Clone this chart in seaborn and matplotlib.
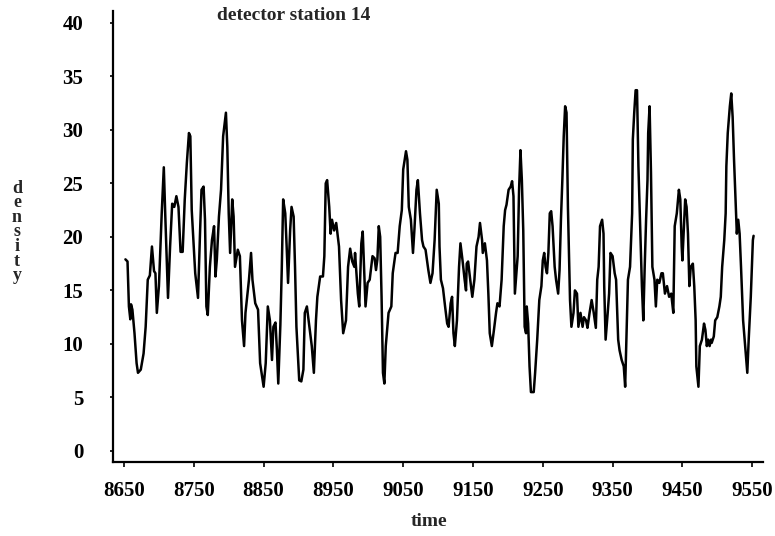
import matplotlib
matplotlib.use("Agg")
import matplotlib.pyplot as plt
import seaborn as sns
import pandas as pd

time = [8652, 8655, 8657, 8659, 8660, 8662, 8665, 8668, 8670, 8674, 8678, 8681, 8684, 8687, 8690,
        8693, 8695, 8697, 8700, 8704, 8707, 8709, 8713, 8716, 8719, 8722, 8725, 8728, 8731, 8734,
        8737, 8740, 8743, 8745, 8747, 8752, 8756, 8759, 8761, 8764, 8766, 8768, 8770, 8773, 8776,
        8779, 8781, 8783, 8786, 8789, 8792, 8796, 8798, 8800, 8802, 8805, 8807, 8809, 8813, 8816,
        8819, 8822, 8824, 8829, 8832, 8834, 8838, 8842, 8845, 8850, 8853, 8856, 8859, 8862, 8864,
        8867, 8869, 8871, 8874, 8876, 8878, 8881, 8883, 8885, 8888, 8890, 8893, 8895, 8897, 8901,
        8904, 8907, 8909, 8912, 8915, 8919, 8922, 8925, 8927, 8931, 8935, 8937, 8939, 8941, 8944,
        8946, 8948, 8951, 8954, 8958, 8961, 8964, 8968, 8971, 8974, 8977, 8980, 8981, 8985, 8987,
        8990, 8992, 8994, 8996, 8999, 9002, 9006, 9009, 9011, 9013, 9015, 9017, 9019, 9021, 9023,
        9025, 9029, 9033, 9035, 9039, 9042, 9045, 9048, 9050, 9054, 9056, 9058, 9061, 9064, 9066,
        9069, 9071, 9074, 9077, 9079, 9082, 9086, 9089, 9092, 9095, 9098, 9101, 9102, 9104, 9107,
        9110, 9113, 9115, 9118, 9120, 9122, 9124, 9127, 9130, 9132, 9135, 9138, 9140, 9141, 9143,
        9146, 9149, 9152, 9155, 9158, 9160, 9163, 9164, 9167, 9170, 9172, 9174, 9177, 9180, 9183,
        9185, 9188, 9191, 9194, 9196, 9198, 9201, 9204, 9206, 9208, 9210, 9214, 9216, 9218, 9220,
        9222, 9224, 9226, 9227, 9229, 9231, 9233, 9237, 9239, 9242, 9245, 9248, 9250, 9252, 9254,
        9256, 9258, 9260, 9262, 9264, 9267, 9269, 9272, 9274, 9276, 9278, 9280, 9282, 9284, 9286,
        9289, 9291, 9294, 9296, 9299, 9301, 9304, 9307, 9309, 9312, 9314, 9317, 9320, 9323, 9326,
        9328, 9330, 9332, 9335, 9337, 9338, 9340, 9343, 9345, 9347, 9350, 9353, 9355, 9358, 9360,
        9363, 9366, 9368, 9370, 9372, 9375, 9378, 9379, 9381, 9383, 9385, 9387, 9390, 9392, 9394,
        9396, 9398, 9400, 9401, 9403, 9405, 9407, 9410, 9412, 9414, 9417, 9420, 9422, 9425, 9428,
        9431, 9434, 9437, 9439, 9442, 9445, 9447, 9449, 9450, 9452, 9454, 9456, 9458, 9460, 9462,
        9465, 9467, 9469, 9470, 9473, 9475, 9478, 9481, 9483, 9485, 9487, 9489, 9491, 9492, 9495,
        9497, 9500, 9503, 9505, 9507, 9510, 9512, 9513, 9515, 9518, 9520, 9522, 9524, 9526, 9528,
        9530, 9532, 9534, 9537, 9540, 9543, 9545, 9548, 9551, 9552]

density = [17.9, 17.7, 13.5, 12.3, 13.7, 13.2, 11.0, 8.2, 7.3, 7.6, 9.1, 11.6, 16.0, 16.4, 19.1,
           16.8, 16.6, 12.9, 15.4, 22.2, 26.5, 22.2, 14.3, 19.1, 23.1, 22.8, 23.8, 22.8, 18.6, 18.6,
           23.5, 26.9, 29.7, 29.4, 22.5, 16.6, 14.3, 20.6, 24.4, 24.7, 21.6, 13.5, 12.7, 17.2, 19.7,
           21.0, 16.3, 17.9, 21.9, 24.4, 29.4, 31.6, 28.4, 22.2, 18.5, 23.5, 21.9, 17.2, 18.8, 18.2,
           12.2, 9.8, 12.9, 16.0, 18.5, 16.0, 13.8, 13.2, 8.2, 6.0, 8.2, 13.5, 12.2, 8.5, 11.6,
           12.0, 9.5, 6.3, 11.8, 17.0, 23.5, 22.2, 19.1, 15.7, 20.6, 22.8, 21.9, 17.2, 11.6, 6.6,
           6.5, 7.6, 12.9, 13.5, 11.9, 9.8, 7.3, 12.2, 14.4, 16.3, 16.3, 18.2, 25.0, 25.3, 22.8,
           20.3, 21.6, 20.6, 21.3, 19.1, 14.1, 11.0, 12.2, 17.2, 18.9, 17.7, 17.2, 18.5, 14.7, 13.5,
           19.4, 20.5, 16.9, 13.5, 15.7, 16.0, 18.2, 18.0, 16.9, 17.9, 21.0, 20.0, 14.4, 7.3, 6.3,
           9.8, 12.9, 13.5, 16.6, 18.5, 18.5, 21.0, 22.5, 26.3, 28.0, 27.2, 22.8, 21.6, 18.5, 20.6,
           24.4, 25.3, 22.2, 19.7, 19.1, 18.8, 16.9, 15.7, 16.6, 19.7, 24.4, 23.1, 19.1, 16.0, 15.2,
           13.5, 11.9, 11.6, 13.8, 14.4, 11.0, 9.8, 12.2, 17.2, 19.4, 17.8, 16.0, 15.0, 17.5, 17.7,
           16.0, 14.4, 16.0, 19.1, 20.0, 21.3, 19.7, 18.5, 19.4, 17.8, 14.7, 11.0, 9.8, 11.3, 12.9,
           13.8, 13.5, 16.0, 21.0, 22.5, 23.0, 24.4, 24.7, 25.2, 23.8, 14.7, 18.2, 24.4, 28.1, 25.3,
           20.6, 11.6, 11.0, 13.5, 11.9, 7.9, 5.5, 5.5, 7.3, 10.4, 14.1, 15.4, 17.8, 18.5, 17.2,
           16.6, 18.5, 22.2, 22.4, 21.0, 17.2, 16.0, 14.7, 16.9, 21.6, 25.3, 29.4, 32.2, 31.6, 22.8,
           14.1, 11.6, 12.9, 15.0, 14.7, 11.6, 12.9, 11.6, 12.5, 12.2, 11.5, 12.9, 14.1, 12.9, 11.5,
           16.0, 17.2, 21.0, 21.6, 20.3, 15.4, 10.4, 12.9, 14.7, 18.5, 18.2, 16.6, 16.0, 10.4, 9.4,
           8.5, 7.9, 6.0, 11.0, 16.0, 17.2, 22.2, 29.1, 31.6, 33.7, 33.7, 26.6, 19.7, 15.4, 12.2,
           17.2, 21.6, 25.3, 29.7, 32.2, 26.0, 17.2, 16.0, 13.5, 16.0, 15.7, 16.6, 16.6, 14.7, 15.4,
           14.4, 14.7, 12.9, 21.0, 22.2, 24.4, 23.5, 19.1, 17.8, 20.6, 23.5, 22.8, 20.3, 15.4, 17.2,
           17.5, 15.4, 12.2, 7.9, 6.0, 9.8, 10.4, 11.9, 11.3, 9.8, 10.4, 9.8, 10.4, 10.1, 10.7,
           12.2, 12.5, 13.5, 14.4, 17.2, 19.7, 22.2, 26.6, 29.7, 32.2, 33.4, 31.2, 27.2, 23.8, 20.3,
           21.6, 20.3, 17.2, 12.2, 9.8, 7.3, 10.4, 14.4, 19.7, 20.1]

x_ticks = [8650, 8750, 8850, 8950, 9050, 9150, 9250, 9350, 9450, 9550]
y_ticks = [0, 5, 10, 15, 20, 25, 30, 35, 40]
title_text = "detector station 14"
x_label = "time"
y_label = "density"

df = pd.DataFrame({"time": time, "density": density})

sns.set_style("ticks")
plt.rcParams["font.family"] = ["Liberation Serif", "DejaVu Serif"]
plt.rcParams["font.weight"] = "bold"

W, H = 775, 536
fig = plt.figure(figsize=(W / 100, H / 100), dpi=100)
ax = fig.add_axes([113 / W, 1 - 462 / H, 650 / W, (462 - 11) / H])

sns.lineplot(data=df, x="time", y="density", color="black", linewidth=1.8, ax=ax,
             estimator=None, sort=False)

ax.set_xlim(8634.2, 9565.5)
ax.set_ylim(-1.03, 41.1)
ax.set_xticks(x_ticks)
ax.set_yticks(y_ticks)
ax.set_xticklabels([str(v) for v in x_ticks], fontsize=15, fontweight="bold")
ax.set_yticklabels([str(v) for v in y_ticks], fontsize=15, fontweight="bold")
ax.tick_params(axis="x", direction="out", length=3.5, width=1.2, pad=10, colors="black")
ax.tick_params(axis="y", direction="out", length=2.5, width=1.2, pad=19, colors="black")

for s in ["top", "right"]:
    ax.spines[s].set_visible(False)
for s in ["left", "bottom"]:
    ax.spines[s].set_linewidth(1.6)
    ax.spines[s].set_color("black")

ax.set_xlabel("")
ax.set_ylabel("")
fig.text(429 / W, 1 - 521 / H, x_label, ha="center", va="center", fontsize=14, fontweight="bold")
fig.text(217 / W, 1 - 15 / H, title_text, ha="left", va="center", fontsize=14, fontweight="bold")
fig.text(17 / W, 1 - 232 / H, "\n".join(y_label), ha="center", va="center",
         fontsize=13, fontweight="bold", linespacing=0.82)

fig.savefig("out.png", dpi=100, facecolor="white")
